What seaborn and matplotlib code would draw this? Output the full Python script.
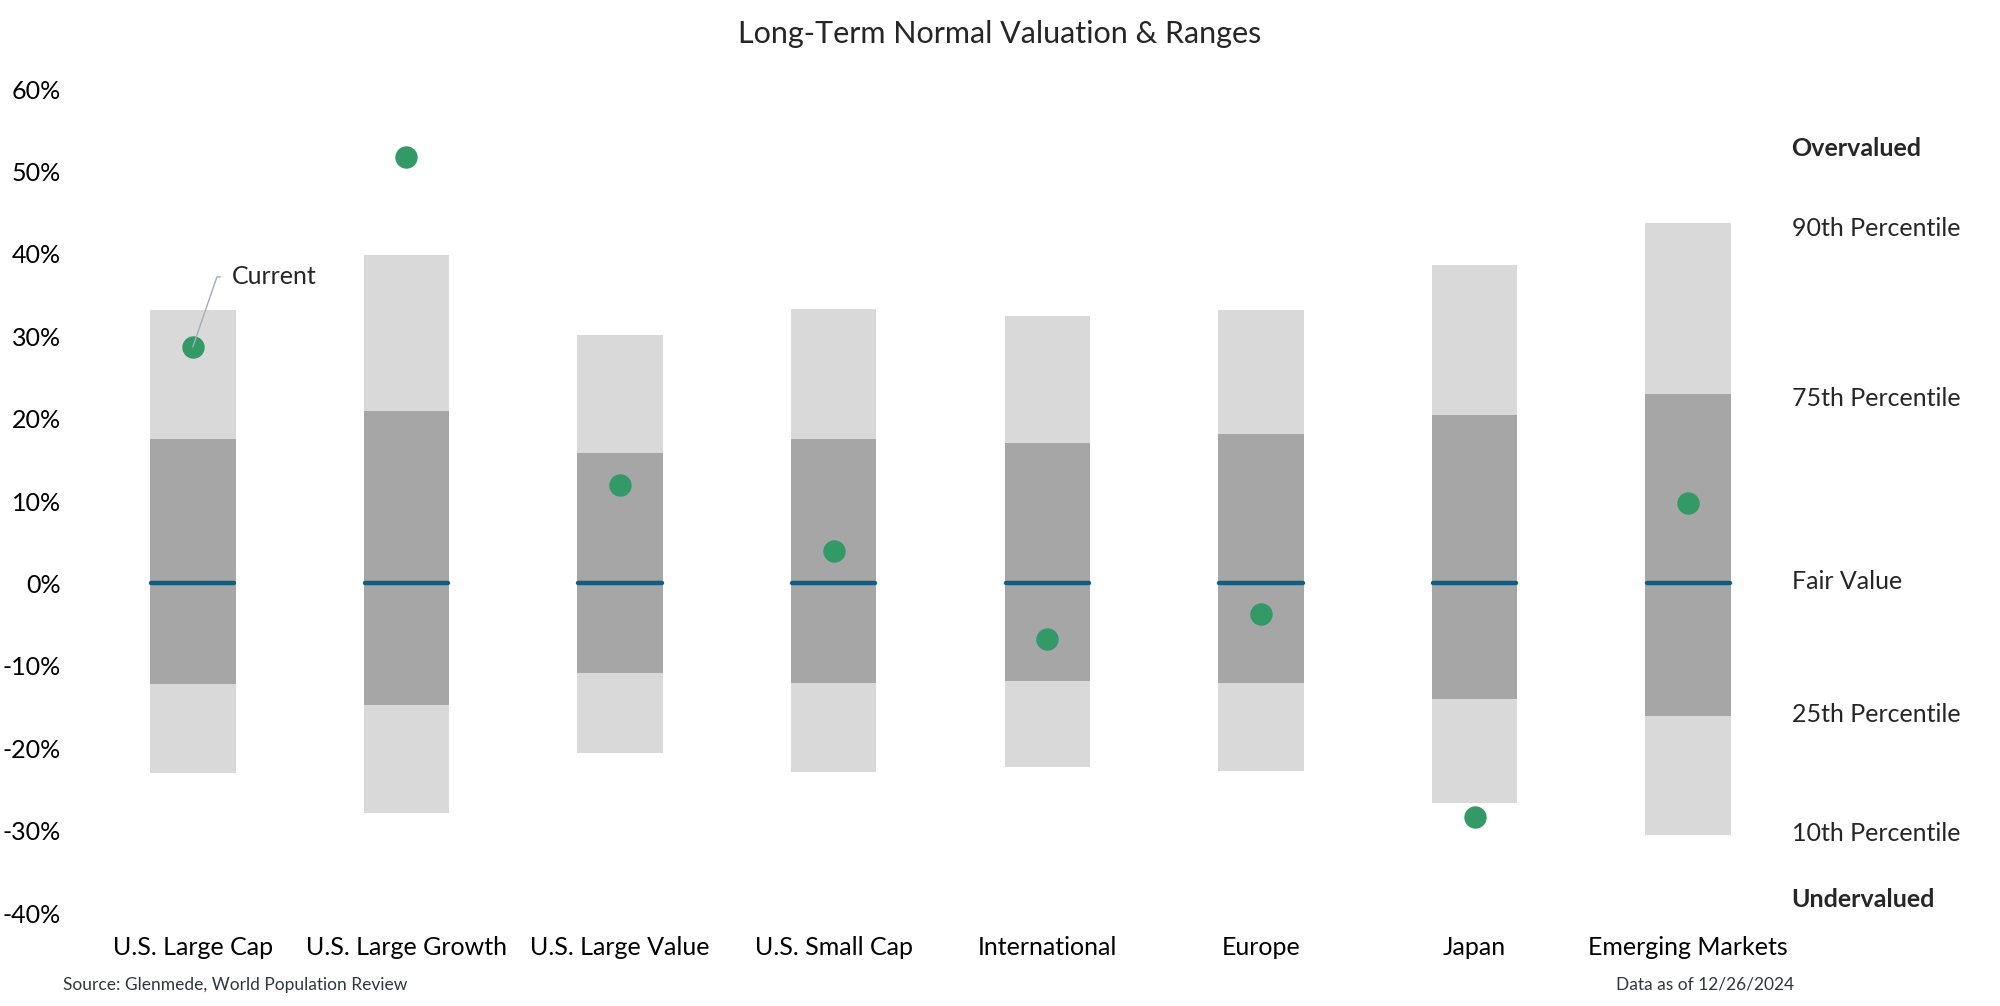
import numpy as np
import pandas as pd
import seaborn as sns
import matplotlib.pyplot as plt
import matplotlib.transforms as mtransforms

# Data (percent deviation from fair value)
categories = ['U.S. Large Cap', 'U.S. Large Growth', 'U.S. Large Value', 'U.S. Small Cap',
              'International', 'Europe', 'Japan', 'Emerging Markets']
p90 = [33.2, 39.8, 30.1, 33.3, 32.4, 33.2, 38.6, 43.8]
p75 = [17.5, 20.9, 15.8, 17.5, 17.1, 18.1, 20.5, 23.0]
p25 = [-12.2, -14.7, -10.9, -12.1, -11.8, -12.1, -14.0, -16.1]
p10 = [-23.0, -27.8, -20.6, -22.9, -22.3, -22.8, -26.7, -30.5]
current = [28.7, 51.8, 11.9, 3.9, -6.7, -3.7, -28.4, 9.8]
fair_value = [0, 0, 0, 0, 0, 0, 0, 0]
yticks = list(range(-40, 70, 10))

# right-hand key
key_labels = ['Overvalued', '90th Percentile', '75th Percentile', 'Fair Value',
              '25th Percentile', '10th Percentile', 'Undervalued']
key_y = [52.8, 43.1, 22.5, 0.2, -15.9, -30.4, -38.4]
key_weight = ['bold', 'normal', 'normal', 'normal', 'normal', 'normal', 'bold']

df = pd.DataFrame({'category': categories, 'p90': p90, 'p75': p75, 'p25': p25,
                   'p10': p10, 'current': current, 'fair': fair_value})

sns.set_style('white')
plt.rcParams['font.family'] = ['Lato', 'DejaVu Sans']

light = '#d9d9d9'
dark = '#a6a6a6'
green = '#339966'
blue = '#115e82'

fig = plt.figure(figsize=(20, 10.06), dpi=100)
ax = fig.add_axes([0.043, 0.0924, 0.8545, 0.8191])

# layered floating bars (all ranges straddle zero)
for col, c in [('p90', light), ('p10', light), ('p75', dark), ('p25', dark)]:
    sns.barplot(data=df, x='category', y=col, color=c, width=0.4, saturation=1,
                linewidth=0, ax=ax)

# fair value lines
for i, v in enumerate(df['fair']):
    ax.plot([i - 0.195, i + 0.195], [v, v], color=blue, lw=3.2,
            solid_capstyle='round', zorder=4)

# current valuation
sns.scatterplot(data=df, x='category', y='current', s=260, color=green,
                linewidth=0, zorder=5, ax=ax)

ax.annotate('Current', xy=(0, current[0]), xytext=(0.185, 37.2),
            fontsize=18, ha='left', va='center',
            arrowprops=dict(arrowstyle='-', color='#a3adb8', lw=1,
                            connectionstyle='angle,angleA=0,angleB=71,rad=0',
                            shrinkA=6, shrinkB=0), zorder=6)

ax.set_xlim(-0.5, len(categories) - 0.5)
ax.set_ylim(-40, 60)
ax.set_yticks(yticks)
ax.set_yticklabels([f'{t}%' for t in yticks])
ax.set_xlabel('')
ax.set_ylabel('')
ax.tick_params(axis='both', length=0, labelsize=18, colors='black')
ax.tick_params(axis='y', pad=18)
ax.tick_params(axis='x', pad=16.5)
sns.despine(ax=ax, left=True, bottom=True)

trans = mtransforms.blended_transform_factory(ax.transAxes, ax.transData)
for txt, yv, w in zip(key_labels, key_y, key_weight):
    ax.text(0.998, yv, txt, transform=trans, fontsize=18, fontweight=w,
            ha='left', va='center', clip_on=False)

fig.text(0.5, 1 - 34 / 1006, 'Long-Term Normal Valuation & Ranges', fontsize=22,
         ha='center', va='center')
fig.text(63 / 2000, 1 - 985 / 1006, 'Source: Glenmede, World Population Review',
         fontsize=12.5, color='#2f3640', ha='left', va='center')
fig.text(1616 / 2000, 1 - 985 / 1006, 'Data as of 12/26/2024',
         fontsize=12.5, color='#2f3640', ha='left', va='center')

fig.savefig('out.png', dpi=100)
